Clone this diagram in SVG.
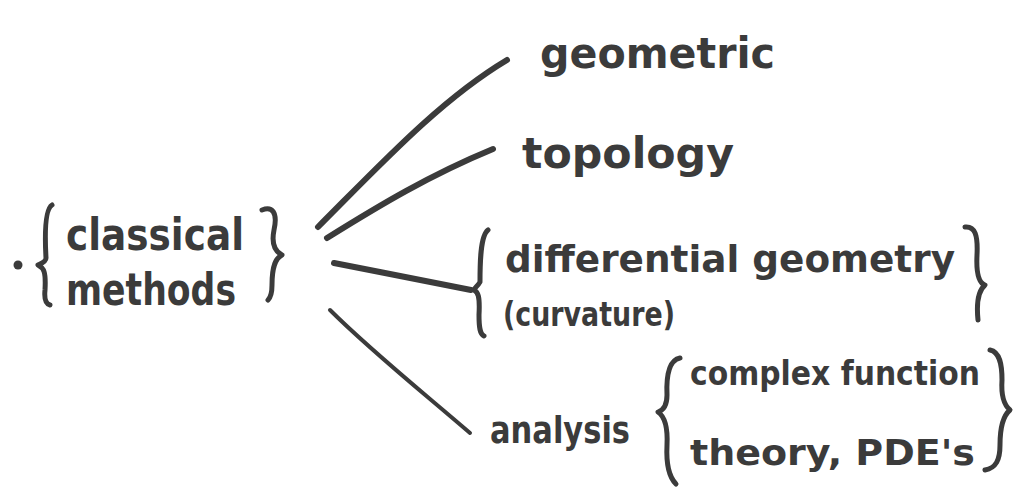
<svg xmlns="http://www.w3.org/2000/svg" width="1021" height="491" viewBox="0 0 1021 491">
<style>
.t{font-family:"DejaVu Sans","Liberation Sans",sans-serif;fill:#3b3b3b;font-weight:bold}
.b{fill:none;stroke:#3b3b3b;stroke-width:5;stroke-linecap:round;stroke-linejoin:round}
.c{fill:none;stroke:#3b3b3b;stroke-linecap:round}
</style>
<rect width="1021" height="491" fill="#ffffff"/>
<g id="root">
<circle cx="18" cy="265" r="4.5" fill="#3b3b3b"/>
<path class="b" d="M52,205 C44,210 45,240 46,258 C46,262 40,264 38,265 C44,268 46,272 45,290 C44,300 46,304 50,305"/>
<text class="t" x="66" y="250" font-size="44" textLength="178" lengthAdjust="spacingAndGlyphs">classical</text>
<text class="t" x="66" y="305" font-size="44" textLength="170" lengthAdjust="spacingAndGlyphs">methods</text>
<path class="b" d="M262,210 C272,206 278,212 274,230 C271,245 276,252 282,255 C276,258 272,265 272,285 C272,295 270,298 268,300"/>
</g>
<g id="geometric">
<text class="t" x="540" y="68" font-size="42" textLength="235" lengthAdjust="spacingAndGlyphs">geometric</text>
</g>
<g id="topology">
<text class="t" x="522" y="168" font-size="42" textLength="212" lengthAdjust="spacingAndGlyphs">topology</text>
</g>
<g id="diffgeom">
<path class="b" d="M488,230 C480,236 480,265 480,282 C478,286 474,288 474,290 C478,292 480,296 479,315 C479,328 480,334 484,336"/>
<text class="t" x="505" y="272" font-size="38" textLength="450" lengthAdjust="spacingAndGlyphs">differential geometry</text>
<text class="t" x="503" y="326" font-size="34" textLength="172" lengthAdjust="spacingAndGlyphs">(curvature)</text>
<path class="b" d="M965,227 C975,226 978,235 977,255 C976,275 979,283 985,285 C979,290 976,300 978,320"/>
</g>
<g id="analysis">
<text class="t" x="490" y="443" font-size="38" textLength="140" lengthAdjust="spacingAndGlyphs">analysis</text>
<path class="b" d="M680,358 C670,360 666,372 667,395 C667,405 664,410 658,412 C664,416 668,424 667,445 C666,465 670,478 676,484"/>
<text class="t" x="690" y="385" font-size="34" textLength="290" lengthAdjust="spacingAndGlyphs">complex function</text>
<text class="t" x="690" y="465" font-size="36" textLength="285" lengthAdjust="spacingAndGlyphs">theory, PDE's</text>
<path class="b" d="M990,350 C1000,352 1002,365 1002,380 C1001,395 1004,405 1010,410 C1004,415 1000,425 1000,445 C1000,460 996,468 985,470"/>
</g>
<g id="connectors">
<path class="c" stroke-width="6" d="M318,227 C380,165 440,100 507,60"/>
<path class="c" stroke-width="6" d="M327,238 C380,205 430,175 493,149"/>
<path class="c" stroke-width="6" d="M334,263 C380,272 420,280 471,290"/>
<path class="c" stroke-width="4" d="M330,310 C370,350 420,390 470,433"/>
</g>
</svg>
